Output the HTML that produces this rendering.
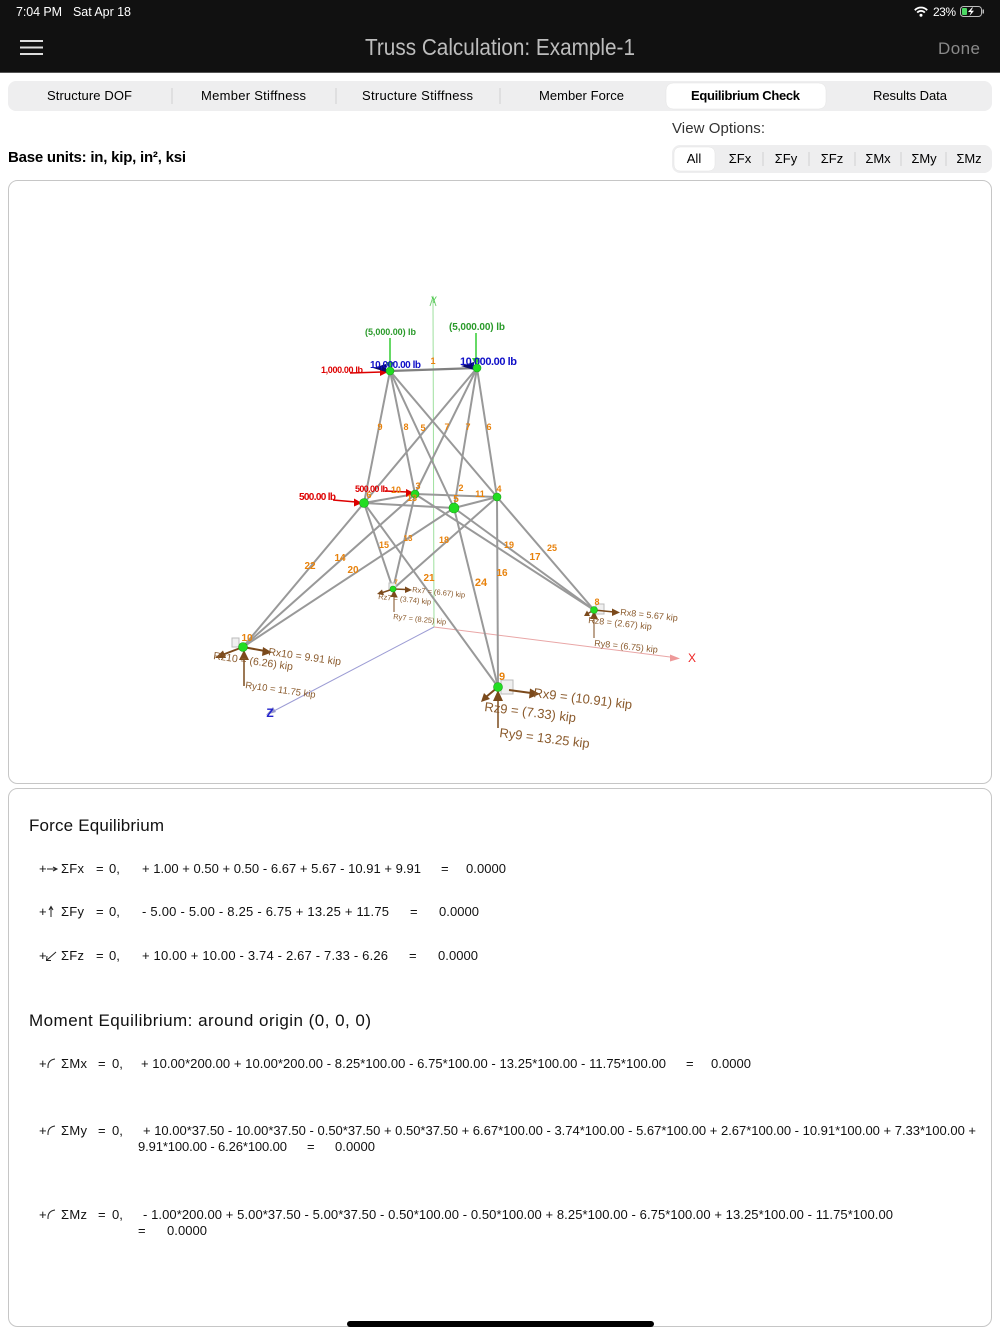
<!DOCTYPE html>
<html><head><meta charset="utf-8">
<style>
html,body{margin:0;padding:0;width:1000px;height:1334px;overflow:hidden;background:#fff;}
svg{display:block}
text{font-family:"Liberation Sans","DejaVu Sans",sans-serif;}
</style></head><body>
<svg width="1000" height="1334" viewBox="0 0 1000 1334" xmlns="http://www.w3.org/2000/svg">
<!-- Header -->
<rect x="0" y="0" width="1000" height="72" fill="#111"/>
<line x1="0" y1="72.5" x2="1000" y2="72.5" stroke="#555" stroke-width="1"/>
<text x="16" y="16" font-size="12.5" fill="#fff" textLength="46">7:04 PM</text>
<text x="73" y="16" font-size="12.5" fill="#fff" textLength="58">Sat Apr 18</text>
<path d="M914.8 10.2 A8.5 8.5 0 0 1 927.2 10.2" stroke="#fff" stroke-width="1.8" fill="none"/>
<path d="M917.2 12.6 A5 5 0 0 1 924.8 12.6" stroke="#fff" stroke-width="1.8" fill="none"/>
<circle cx="921" cy="15.2" r="1.5" fill="#fff"/>
<text x="933" y="16" font-size="12" fill="#fff" textLength="23">23%</text>
<rect x="960.5" y="6.5" width="21" height="10" rx="3" fill="none" stroke="#bbb" stroke-width="1"/>
<rect x="962" y="8" width="5" height="7" rx="1" fill="#4cd964"/>
<rect x="982.5" y="9.5" width="1.5" height="4" fill="#bbb"/>
<polygon points="972,7.5 968,12 971,12 969.5,16 974,10.8 971,10.8 973,7.5" fill="#fff"/>
<rect x="20" y="40" width="23" height="2" fill="#ddd"/>
<rect x="20" y="46.5" width="23" height="2" fill="#ddd"/>
<rect x="20" y="53" width="23" height="2" fill="#ddd"/>
<text x="365" y="55" font-size="23" fill="#bdbdbd" textLength="270" lengthAdjust="spacingAndGlyphs">Truss Calculation: Example-1</text>
<text x="938" y="54" font-size="17" fill="#8a8a8a" textLength="42">Done</text>

<!-- Tabs -->
<rect x="8" y="81" width="984" height="30" rx="8" fill="#eeeeef"/>
<rect x="666" y="83" width="160" height="26" rx="7" fill="#fff" stroke="#e2e2e2" stroke-width="0.5"/>
<line x1="172" y1="88" x2="172" y2="104" stroke="#d0d0d0"/>
<line x1="336" y1="88" x2="336" y2="104" stroke="#d0d0d0"/>
<line x1="500" y1="88" x2="500" y2="104" stroke="#d0d0d0"/>
<g font-size="13" fill="#000">
<text x="47" y="100" textLength="85">Structure DOF</text>
<text x="201" y="100" textLength="105">Member Stiffness</text>
<text x="362" y="100" textLength="111">Structure Stiffness</text>
<text x="539" y="100" textLength="85">Member Force</text>
<text x="691" y="100" textLength="109" font-weight="bold">Equilibrium Check</text>
<text x="873" y="100" textLength="74">Results Data</text>
</g>

<text x="672" y="133" font-size="15" fill="#333" textLength="93">View Options:</text>
<text x="8" y="162" font-size="15" fill="#000" textLength="178" font-weight="bold">Base units: in, kip, in², ksi</text>

<rect x="672" y="145" width="320" height="28" rx="8" fill="#eeeeef"/>
<rect x="674" y="147" width="41" height="24" rx="6" fill="#fff" stroke="#e2e2e2" stroke-width="0.5"/>
<g stroke="#d0d0d0">
<line x1="763" y1="152" x2="763" y2="166"/>
<line x1="809" y1="152" x2="809" y2="166"/>
<line x1="855" y1="152" x2="855" y2="166"/>
<line x1="901" y1="152" x2="901" y2="166"/>
<line x1="946" y1="152" x2="946" y2="166"/>
</g>
<g font-size="13" fill="#000" text-anchor="middle">
<text x="694" y="163">All</text>
<text x="740" y="163">ΣFx</text>
<text x="786" y="163">ΣFy</text>
<text x="832" y="163">ΣFz</text>
<text x="878" y="163">ΣMx</text>
<text x="924" y="163">ΣMy</text>
<text x="969" y="163">ΣMz</text>
</g>

<!-- Panels -->
<rect x="8.5" y="180.5" width="983" height="603" rx="9" fill="#fff" stroke="#c6c6c6"/>
<rect x="8.5" y="788.5" width="983" height="538" rx="9" fill="#fff" stroke="#c6c6c6"/>

<!-- Axes -->
<line x1="434" y1="627" x2="433" y2="300" stroke="#9ee09e" stroke-width="1"/>
<polyline points="430,306 433,297 436,306" fill="none" stroke="#7c7" stroke-width="1"/>
<text x="434" y="303" font-size="9" fill="#4c4" text-anchor="middle">Y</text>
<line x1="434" y1="627" x2="674" y2="657.5" stroke="#e9a6a6" stroke-width="1"/>
<polygon points="680,658.5 670,654.5 670,661.5" fill="#e99"/>
<text x="692" y="662" font-size="12" fill="#e22" text-anchor="middle">X</text>
<line x1="434" y1="627" x2="270" y2="713" stroke="#9c9cd4" stroke-width="1"/>
<polygon points="266,715 273,707 276,712" fill="#99c"/>
<text x="270" y="717" font-size="12" font-weight="bold" fill="#2222cc" text-anchor="middle">Z</text>

<!-- Members -->
<g stroke="#999" stroke-width="2" stroke-linecap="round">
<line x1="390" y1="371" x2="364" y2="503"/>
<line x1="390" y1="371" x2="415" y2="494"/>
<line x1="390" y1="371" x2="454" y2="508"/>
<line x1="390" y1="371" x2="497" y2="497"/>
<line x1="477" y1="368" x2="364" y2="503"/>
<line x1="477" y1="368" x2="415" y2="494"/>
<line x1="477" y1="368" x2="454" y2="508"/>
<line x1="477" y1="368" x2="497" y2="497"/>
<line x1="364" y1="503" x2="415" y2="494"/>
<line x1="415" y1="494" x2="497" y2="497"/>
<line x1="497" y1="497" x2="454" y2="508"/>
<line x1="454" y1="508" x2="364" y2="503"/>
<line x1="364" y1="503" x2="243" y2="647"/>
<line x1="415" y1="494" x2="243" y2="647"/>
<line x1="454" y1="508" x2="243" y2="647"/>
<line x1="364" y1="503" x2="393" y2="589"/>
<line x1="415" y1="494" x2="393" y2="589"/>
<line x1="497" y1="497" x2="393" y2="589"/>
<line x1="364" y1="503" x2="498" y2="687"/>
<line x1="454" y1="508" x2="498" y2="687"/>
<line x1="497" y1="497" x2="498" y2="687"/>
<line x1="497" y1="497" x2="594" y2="610"/>
<line x1="454" y1="508" x2="594" y2="610"/>
<line x1="415" y1="494" x2="594" y2="610"/>
</g>
<line x1="390" y1="371" x2="477" y2="368" stroke="#808080" stroke-width="2.2"/>

<!-- Supports -->
<rect x="501" y="680" width="12" height="14" fill="#f0f0f0" stroke="#bbb" stroke-width="1"/>
<rect x="596" y="604" width="8" height="10" fill="#f0f0f0" stroke="#bbb" stroke-width="1"/>
<rect x="232" y="638" width="7" height="9" fill="#f0f0f0" stroke="#bbb" stroke-width="1"/>
<rect x="389" y="583" width="7" height="7" fill="#f0f0f0" stroke="#bbb" stroke-width="1"/>

<!-- Reactions -->
<g stroke="#7b4a1c" fill="#7b4a1c">
<!-- node 10 -->
<line x1="243" y1="647" x2="265" y2="651" stroke-width="2"/>
<polygon points="272,652.5 263,647 262,656" stroke="none"/>
<line x1="243" y1="647" x2="222" y2="655" stroke-width="2"/>
<polygon points="215,658 223,650.5 226,658" stroke="none"/>
<line x1="244" y1="686" x2="244" y2="656" stroke-width="1.5"/>
<polygon points="244,650 239,660 249,660" stroke="none"/>
<!-- node 7 -->
<line x1="393" y1="589" x2="407" y2="589.5" stroke-width="1.5"/>
<polygon points="412,590 405,586.5 405,593" stroke="none"/>
<line x1="393" y1="589" x2="381" y2="593" stroke-width="1.5"/>
<polygon points="377,594 382,589.5 384,595" stroke="none"/>
<line x1="394" y1="612" x2="394" y2="594" stroke-width="1"/>
<polygon points="394,590 390.5,597 397.5,597" stroke="none"/>
<!-- node 8 -->
<line x1="594" y1="610" x2="614" y2="612" stroke-width="1.5"/>
<polygon points="620,612.5 612,608.5 612,616" stroke="none"/>
<line x1="594" y1="610" x2="587" y2="614" stroke-width="1.5"/>
<polygon points="584,616 587,610.5 590,616" stroke="none"/>
<line x1="594" y1="638" x2="594" y2="616" stroke-width="1"/>
<polygon points="594,611 590,619 598,619" stroke="none"/>
<!-- node 9 -->
<line x1="509" y1="690" x2="531" y2="693" stroke-width="2"/>
<polygon points="540,694 530,688.5 529,698.5" stroke="none"/>
<line x1="498" y1="687" x2="486" y2="697" stroke-width="2"/>
<polygon points="481,702 484,693 490,699" stroke="none"/>
<line x1="498" y1="728" x2="498" y2="697" stroke-width="1.5"/>
<polygon points="498,690 493,701 503,701" stroke="none"/>
</g>
<g fill="#8a5a2c">
<text x="268" y="655" font-size="10.5" transform="rotate(8 268 655)">Rx10 = 9.91 kip</text>
<text x="213" y="659" font-size="10.5" transform="rotate(8 213 659)">Rz10 = (6.26) kip</text>
<text x="245" y="688" font-size="9.5" transform="rotate(8 245 688)">Ry10 = 11.75 kip</text>
<text x="412" y="592" font-size="7.5" transform="rotate(6 412 592)">Rx7 = (6.67) kip</text>
<text x="378" y="599" font-size="7.5" transform="rotate(6 378 599)">Rz7 = (3.74) kip</text>
<text x="393" y="619" font-size="7.5" transform="rotate(6 393 619)">Ry7 = (8.25) kip</text>
<text x="620" y="615" font-size="9" transform="rotate(6 620 615)">Rx8 = 5.67 kip</text>
<text x="588" y="623" font-size="9" transform="rotate(6 588 623)">Rz8 = (2.67) kip</text>
<text x="594" y="646" font-size="9" transform="rotate(6 594 646)">Ry8 = (6.75) kip</text>
<text x="533" y="697" font-size="13" transform="rotate(7 533 697)">Rx9 = (10.91) kip</text>
<text x="484" y="711" font-size="13" transform="rotate(7 484 711)">Rz9 = (7.33) kip</text>
<text x="499" y="737" font-size="13" transform="rotate(7 499 737)">Ry9 = 13.25 kip</text>
</g>

<!-- Loads -->
<line x1="390" y1="338" x2="390" y2="363" stroke="#3c3" stroke-width="1.5"/>
<polygon points="386,362 394,362 390,370" fill="#3c3"/>
<line x1="476" y1="333" x2="476" y2="359" stroke="#3c3" stroke-width="1.5"/>
<polygon points="472,358 480,358 476,366" fill="#3c3"/>
<text x="365" y="335" font-size="9" fill="#2a9a2a" font-weight="bold" textLength="51">(5,000.00) lb</text>
<text x="449" y="330" font-size="10" fill="#2a9a2a" font-weight="bold" textLength="56">(5,000.00) lb</text>

<line x1="350" y1="373" x2="382" y2="372" stroke="#d00" stroke-width="1.5"/>
<polygon points="388,372 380,368 380,376" fill="#d00"/>
<line x1="333" y1="500" x2="356" y2="502" stroke="#d00" stroke-width="1.5"/>
<polygon points="362,503 354,498.5 354,506.5" fill="#d00"/>
<line x1="385" y1="491" x2="408" y2="492" stroke="#d00" stroke-width="1.5"/>
<polygon points="414,493 406,489 406,497" fill="#d00"/>
<text x="321" y="373" font-size="9" fill="#d00" font-weight="bold" textLength="42">1,000.00 lb</text>
<text x="299" y="500" font-size="10" fill="#d00" font-weight="bold" textLength="37">500.00 lb</text>
<text x="355" y="492" font-size="9" fill="#d00" font-weight="bold" textLength="33">500.00 lb</text>

<polygon points="373,368 386,364 386,372" fill="#0a0a70"/>
<polygon points="461,366 474,362 474,370" fill="#0a0a70"/>
<text x="370" y="368" font-size="10" fill="#1010c8" font-weight="bold" textLength="51">10,000.00 lb</text>
<text x="460" y="365" font-size="11" fill="#1010c8" font-weight="bold" textLength="57">10,000.00 lb</text>

<!-- Nodes -->
<g fill="#22dd22" stroke="#19a019" stroke-width="0.6">
<circle cx="390" cy="371" r="4"/>
<circle cx="477" cy="368" r="4"/>
<circle cx="415" cy="494" r="4"/>
<circle cx="497" cy="497" r="4"/>
<circle cx="454" cy="508" r="5"/>
<circle cx="364" cy="503" r="4.5"/>
<circle cx="393" cy="589" r="3"/>
<circle cx="594" cy="610" r="3.5"/>
<circle cx="498" cy="687" r="4.5"/>
<circle cx="243" cy="647" r="4.5"/>
</g>

<!-- Orange labels -->
<g fill="#e8820c" font-weight="bold" text-anchor="middle">
<text x="433" y="364" font-size="9">1</text>
<text x="380" y="430" font-size="9">9</text>
<text x="406" y="430" font-size="9">8</text>
<text x="423" y="431" font-size="9">5</text>
<text x="447" y="430" font-size="9">7</text>
<text x="468" y="430" font-size="9">7</text>
<text x="489" y="430" font-size="9">6</text>
<text x="418" y="489" font-size="9">3</text>
<text x="396" y="493" font-size="9">10</text>
<text x="412" y="501" font-size="9">13</text>
<text x="369" y="498" font-size="9">6</text>
<text x="461" y="491" font-size="9">2</text>
<text x="456" y="502" font-size="10">5</text>
<text x="480" y="497" font-size="9">11</text>
<text x="499" y="492" font-size="9">4</text>
<text x="384" y="548" font-size="9">15</text>
<text x="408" y="541" font-size="8">13</text>
<text x="444" y="543" font-size="9">18</text>
<text x="509" y="548" font-size="9">19</text>
<text x="552" y="551" font-size="9">25</text>
<text x="535" y="560" font-size="10">17</text>
<text x="310" y="569" font-size="10">22</text>
<text x="340" y="561" font-size="10">14</text>
<text x="353" y="573" font-size="10">20</text>
<text x="429" y="581" font-size="10">21</text>
<text x="481" y="586" font-size="11">24</text>
<text x="502" y="576" font-size="10">16</text>
<text x="247" y="641" font-size="10">10</text>
<text x="597" y="605" font-size="9">8</text>
<text x="502" y="680" font-size="11">9</text>
<text x="396" y="584" font-size="6">7</text>
</g>

<!-- Force Equilibrium -->
<g fill="#111" font-size="13">
<text x="29" y="831" font-size="17" textLength="135">Force Equilibrium</text>

<text x="39" y="873">+</text>
<text x="61" y="873" textLength="23">ΣFx</text>
<text x="96" y="873">=</text>
<text x="109" y="873">0,</text>
<text x="142" y="873" textLength="279">+ 1.00 + 0.50 + 0.50 - 6.67 + 5.67 - 10.91 + 9.91</text>
<text x="441" y="873">=</text>
<text x="466" y="873" textLength="40">0.0000</text>

<text x="39" y="916">+</text>
<text x="61" y="916" textLength="23">ΣFy</text>
<text x="96" y="916">=</text>
<text x="109" y="916">0,</text>
<text x="142" y="916" textLength="247">- 5.00 - 5.00 - 8.25 - 6.75 + 13.25 + 11.75</text>
<text x="410" y="916">=</text>
<text x="439" y="916" textLength="40">0.0000</text>

<text x="39" y="960">+</text>
<text x="61" y="960" textLength="23">ΣFz</text>
<text x="96" y="960">=</text>
<text x="109" y="960">0,</text>
<text x="142" y="960" textLength="246">+ 10.00 + 10.00 - 3.74 - 2.67 - 7.33 - 6.26</text>
<text x="409" y="960">=</text>
<text x="438" y="960" textLength="40">0.0000</text>

<text x="29" y="1026" font-size="17" textLength="342">Moment Equilibrium: around origin (0, 0, 0)</text>

<text x="39" y="1068">+</text>
<text x="61" y="1068" textLength="26">ΣMx</text>
<text x="98" y="1068">=</text>
<text x="112" y="1068">0,</text>
<text x="141" y="1068" textLength="525">+ 10.00*200.00 + 10.00*200.00 - 8.25*100.00 - 6.75*100.00 - 13.25*100.00 - 11.75*100.00</text>
<text x="686" y="1068">=</text>
<text x="711" y="1068" textLength="40">0.0000</text>

<text x="39" y="1135">+</text>
<text x="61" y="1135" textLength="26">ΣMy</text>
<text x="98" y="1135">=</text>
<text x="112" y="1135">0,</text>
<text x="143" y="1135" textLength="833">+ 10.00*37.50 - 10.00*37.50 - 0.50*37.50 + 0.50*37.50 + 6.67*100.00 - 3.74*100.00 - 5.67*100.00 + 2.67*100.00 - 10.91*100.00 + 7.33*100.00 +</text>
<text x="138" y="1151" textLength="149">9.91*100.00 - 6.26*100.00</text>
<text x="307" y="1151">=</text>
<text x="335" y="1151" textLength="40">0.0000</text>

<text x="39" y="1219">+</text>
<text x="61" y="1219" textLength="26">ΣMz</text>
<text x="98" y="1219">=</text>
<text x="112" y="1219">0,</text>
<text x="143" y="1219" textLength="750">- 1.00*200.00 + 5.00*37.50 - 5.00*37.50 - 0.50*100.00 - 0.50*100.00 + 8.25*100.00 - 6.75*100.00 + 13.25*100.00 - 11.75*100.00</text>
<text x="138" y="1235">=</text>
<text x="167" y="1235" textLength="40">0.0000</text>
</g>

<!-- small direction arrows -->
<g stroke="#222" stroke-width="1" fill="none">
<line x1="47" y1="869" x2="56" y2="869"/>
<polyline points="53,867 57,869 53,871"/>
<line x1="51" y1="917" x2="51" y2="907"/>
<polyline points="49,910 51,906.5 53,910"/>
<line x1="56" y1="952" x2="47" y2="960"/>
<polyline points="47,956 46.5,960.5 51,960.5"/>
<path d="M48 1068 Q47.5 1060 55 1059"/>
<path d="M48 1135 Q47.5 1127 55 1126"/>
<path d="M48 1219 Q47.5 1211 55 1210"/>
</g>

<!-- Home indicator -->
<rect x="347" y="1321" width="307" height="6" rx="3" fill="#000"/>
</svg>
</body></html>
